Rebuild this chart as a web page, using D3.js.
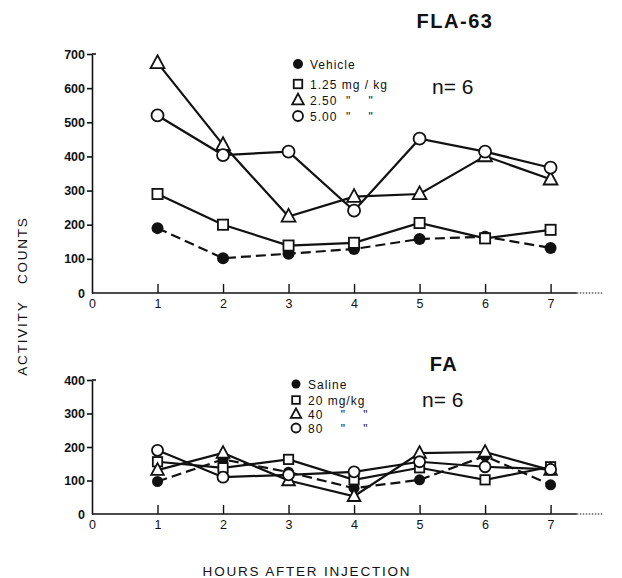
<!DOCTYPE html>
<html>
<head>
<meta charset="utf-8">
<script src="https://cdn.jsdelivr.net/npm/d3@7"></script>
<style>
  body { margin: 0; background: #fff; }
  svg text { font-family: "Liberation Sans", Arial, sans-serif; fill: #111; }
</style>
</head>
<body>
<div id="chart"></div>
<script>
// hours after injection
const hours = [1, 2, 3, 4, 5, 6, 7];
const xTicks = [0, 1, 2, 3, 4, 5, 6, 7];

// FLA-63 panel
const flaTicks = [0, 100, 200, 300, 400, 500, 600, 700];
const flaVehicle = [190, 102, 115, 129, 158, 165, 132];
const fla125 = [290, 200, 139, 147, 205, 160, 185];
const fla250 = [674, 434, 224, 282, 290, 401, 333];
const fla500 = [520, 404, 414, 241, 452, 414, 367];
const flaLegend = ['Vehicle', '1.25 mg / kg', '2.50  "    "', '5.00  "    "'];

// FA panel
const faTicks = [0, 100, 200, 300, 400];
const faSaline = [97, 163, 125, 77, 102, 173, 87];
const fa20 = [156, 138, 163, 102, 138, 102, 141];
const fa40 = [131, 182, 100, 53, 182, 185, 131];
const fa80 = [190, 110, 117, 126, 156, 141, 133];
const faLegend = ['Saline', '20 mg/kg', '40    "    "', '80    "    "'];

const symbols = ['dot', 'square', 'triangle', 'circle'];

const W = 622, H = 578;
const svg = d3.select('#chart').append('svg')
  .attr('width', W)
  .attr('height', H);

const x = d3.scaleLinear().domain([0, 7.8]).range([92, 603]);

function drawMarker(g, kind, cx, cy, r) {
  if (kind === 'dot') {
    g.append('circle').attr('cx', cx).attr('cy', cy).attr('r', r)
      .attr('fill', '#111');
  } else if (kind === 'circle') {
    g.append('circle').attr('cx', cx).attr('cy', cy).attr('r', r)
      .attr('fill', '#fff').attr('stroke', '#111').attr('stroke-width', 1.8);
  } else if (kind === 'square') {
    let s = r * 1.7;
    g.append('rect').attr('x', cx - s/2).attr('y', cy - s/2)
      .attr('width', s).attr('height', s)
      .attr('fill', '#fff').attr('stroke', '#111').attr('stroke-width', 1.8);
  } else {
    let s = r * 1.15;
    g.append('path')
      .attr('d', `M${cx},${cy - s*1.1}L${cx + s},${cy + s*0.75}L${cx - s},${cy + s*0.75}Z`)
      .attr('fill', '#fff').attr('stroke', '#111').attr('stroke-width', 1.8);
  }
}

function panel(opt) {
  const y = d3.scaleLinear().domain([0, opt.max]).range([opt.bottom, opt.top]);
  const g = svg.append('g');

  // y axis
  const ya = g.append('g')
    .attr('transform', `translate(${x(0)},0)`)
    .call(d3.axisLeft(y).tickValues(opt.ticks).tickSize(5).tickPadding(2).tickSizeOuter(0));
  ya.select('.domain').attr('stroke', '#111').attr('stroke-width', 1.6);
  ya.selectAll('.tick line').attr('stroke', '#111').attr('stroke-width', 1.6);
  ya.selectAll('.tick text').attr('font-size', 12.5).attr('font-weight', 'bold')
    .attr('fill', '#222');
  ya.selectAll('.tick').filter(d => d === 0).select('line').remove();
  // small cap at the top of the axis
  g.append('line')
    .attr('x1', x(0)).attr('x2', x(0) + 4)
    .attr('y1', y(opt.max)).attr('y2', y(opt.max))
    .attr('stroke', '#111').attr('stroke-width', 1.6);

  // x axis, ticks pointing up
  const xa = g.append('g')
    .attr('transform', `translate(0,${opt.bottom})`)
    .call(d3.axisBottom(x).tickValues(xTicks).tickSizeInner(-9).tickSizeOuter(0).tickPadding(6));
  xa.select('.domain').remove();
  xa.selectAll('.tick line').attr('stroke', '#111').attr('stroke-width', 1.4);
  xa.selectAll('.tick').filter(d => d === 0).select('line').remove();
  xa.selectAll('.tick text').attr('font-size', 12.5).attr('fill', '#222');
  g.append('line')
    .attr('x1', x(0)).attr('x2', x(7.4))
    .attr('y1', opt.bottom).attr('y2', opt.bottom)
    .attr('stroke', '#111').attr('stroke-width', 1.6);
  g.append('line')
    .attr('x1', x(7.4)).attr('x2', x(7.8))
    .attr('y1', opt.bottom).attr('y2', opt.bottom)
    .attr('stroke', '#111').attr('stroke-width', 1)
    .attr('stroke-dasharray', '1.5,1.5');

  // lines, drawn back to front
  const line = d3.line().x((d, i) => x(hours[i])).y(d => y(d));
  opt.series.forEach((s, k) => {
    g.append('path')
      .datum(s)
      .attr('d', line)
      .attr('fill', 'none')
      .attr('stroke', '#111')
      .attr('stroke-width', 2.2)
      .attr('stroke-dasharray', k === 0 ? '10,5' : null);
  });
  opt.series.forEach((s, k) => {
    s.forEach((v, i) => drawMarker(g, symbols[k], x(hours[i]), y(v), opt.r));
  });

  // legend
  opt.legend.forEach((lab, k) => {
    let ly = opt.legendY[k];
    drawMarker(g, symbols[k], opt.legendX, ly, opt.r - 1);
    g.append('text')
      .attr('x', opt.legendX + 12).attr('y', ly + 4.5)
      .attr('font-size', 12)
      .attr('letter-spacing', 1)
      .attr('xml:space', 'preserve')
      .text(lab);
  });

  g.append('text')
    .attr('x', opt.nX).attr('y', opt.nY)
    .attr('font-size', 21)
    .text('n= 6');

  g.append('text')
    .attr('x', opt.titleX).attr('y', opt.titleY)
    .attr('text-anchor', 'middle')
    .attr('font-size', 20)
    .attr('font-weight', 'bold')
    .attr('letter-spacing', 1.5)
    .text(opt.title);
}

panel({
  max: 700, top: 54, bottom: 293, ticks: flaTicks,
  series: [flaVehicle, fla125, fla250, fla500],
  legend: flaLegend, legendX: 298, legendY: [64, 84, 100, 116],
  nX: 432, nY: 94, r: 6,
  title: 'FLA-63', titleX: 455, titleY: 28
});

panel({
  max: 400, top: 380, bottom: 514, ticks: faTicks,
  series: [faSaline, fa20, fa40, fa80],
  legend: faLegend, legendX: 296, legendY: [384, 400, 414, 428],
  nX: 422, nY: 407, r: 5.5,
  title: 'FA', titleX: 444, titleY: 371
});

svg.append('text')
  .attr('transform', 'translate(27,296) rotate(-90)')
  .attr('text-anchor', 'middle')
  .attr('font-size', 13.5)
  .attr('letter-spacing', 1.8)
  .attr('xml:space', 'preserve')
  .text('ACTIVITY   COUNTS');

svg.append('text')
  .attr('x', 307).attr('y', 576)
  .attr('text-anchor', 'middle')
  .attr('font-size', 13.5)
  .attr('letter-spacing', 1.8)
  .text('HOURS AFTER INJECTION');
</script>
</body>
</html>
